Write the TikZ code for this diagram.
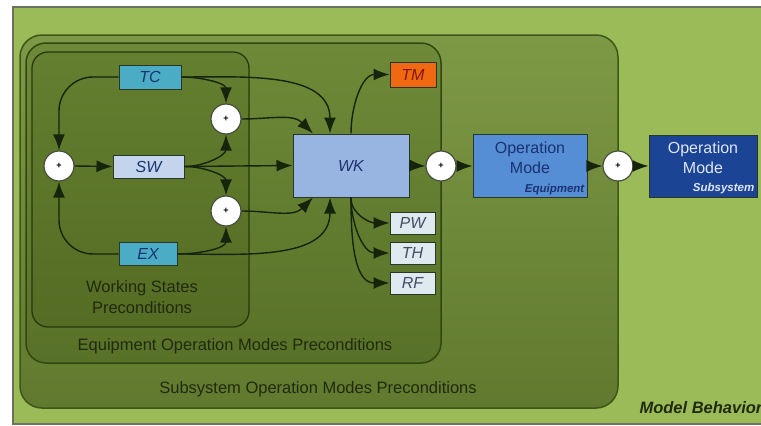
\documentclass[tikz,border=0pt]{standalone}
\usepackage{fontspec}
\setmainfont{Liberation Sans}
\usetikzlibrary{arrows.meta}

\definecolor{bggreen}{RGB}{155,187,89}
\definecolor{framegray}{RGB}{105,115,95}
\definecolor{subtop}{RGB}{126,153,70}
\definecolor{subbot}{RGB}{96,121,46}
\definecolor{subline}{RGB}{62,86,24}
\definecolor{eqtop}{RGB}{110,138,56}
\definecolor{eqbot}{RGB}{88,113,40}
\definecolor{eqline}{RGB}{50,70,18}
\definecolor{wstop}{RGB}{100,127,48}
\definecolor{wsbot}{RGB}{84,108,35}
\definecolor{wsline}{RGB}{40,56,14}
\definecolor{linedark}{RGB}{22,36,12}
\definecolor{labeldark}{RGB}{32,42,14}
\definecolor{boxline}{RGB}{40,55,40}
\definecolor{sumline}{RGB}{70,78,62}
\definecolor{tcfill}{RGB}{75,172,198}
\definecolor{swfill}{RGB}{196,212,236}
\definecolor{wkfill}{RGB}{152,181,226}
\definecolor{tmfill}{RGB}{240,104,18}
\definecolor{pwfill}{RGB}{222,233,240}
\definecolor{opefill}{RGB}{86,142,214}
\definecolor{opsfill}{RGB}{28,68,148}
\definecolor{textblue}{RGB}{26,50,112}
\definecolor{textred}{RGB}{130,22,0}
\definecolor{textslate}{RGB}{66,76,98}
\definecolor{textlight}{RGB}{222,230,246}

\tikzset{
  flow/.style={line width=1.4pt, draw=linedark, -{Latex[length=16pt,width=12pt]}},
  statebox/.style={draw=boxline, line width=1pt, inner sep=0pt, text=textblue,
    font=\fontsize{16}{18}\selectfont\itshape},
  sumnode/.style={circle, draw=sumline, fill=white, line width=1.2pt, minimum size=30pt,
    inner sep=0pt, font=\fontsize{9}{9}\selectfont\bfseries},
  grouplabel/.style={font=\fontsize{16.5}{21}\selectfont, text=labeldark, align=center},
  modebox/.style={draw=boxline, line width=1pt, minimum width=114pt, minimum height=63pt},
  modetext/.style={font=\fontsize{16}{20}\selectfont, align=center},
  modetag/.style={font=\fontsize{11.5}{12}\selectfont\bfseries\itshape, inner sep=3pt},
}

\begin{document}
\begin{tikzpicture}[x=1pt,y=1pt]
\useasboundingbox (0,0) rectangle (761,-426);
\clip (0,0) rectangle (761,-426);

% frame and the three nested groups
\draw[fill=bggreen, draw=framegray, line width=1.2pt] (13,-7) rectangle (790,-424);
\draw[top color=subtop, bottom color=subbot, draw=subline, line width=1.5pt, rounded corners=22pt]
  (20,-35) rectangle (618,-408);
\draw[top color=eqtop, bottom color=eqbot, draw=eqline, line width=1.5pt, rounded corners=20pt]
  (26,-43) rectangle (441,-363);
\draw[top color=wstop, bottom color=wsbot, draw=wsline, line width=1.3pt, rounded corners=16pt]
  (32,-52) rectangle (249,-327);

\node[grouplabel] (wslabel) at (142,-297) {Working States\\Preconditions};
\node[grouplabel, anchor=base] (eqlabel) at (235,-350) {Equipment Operation Modes Preconditions};
\node[grouplabel, anchor=base] (sublabel) at (318,-393) {Subsystem Operation Modes Preconditions};
\node[grouplabel, anchor=base west, font=\fontsize{16.5}{20}\selectfont\bfseries\itshape] (mblabel)
  at (636,-413) {Model Behavior};

% states
\node[statebox, fill=tcfill, minimum width=62pt, minimum height=24pt] (tc) at (150,-77) {TC};
\node[statebox, fill=swfill, minimum width=71pt, minimum height=23pt] (sw) at (148.5,-166.5) {SW};
\node[statebox, fill=tcfill, minimum width=58pt, minimum height=23pt] (ex) at (148,-254) {EX};
\node[statebox, fill=wkfill, minimum width=116pt, minimum height=63pt] (wk) at (351,-165.5) {WK};
\node[statebox, fill=tmfill, text=textred, minimum width=46pt, minimum height=25pt] (tm) at (413,-74.5) {TM};
\node[statebox, fill=pwfill, text=textslate, minimum width=45pt, minimum height=22pt] (pw) at (412.5,-223) {PW};
\node[statebox, fill=pwfill, text=textslate, minimum width=45pt, minimum height=22pt] (th) at (412.5,-253) {TH};
\node[statebox, fill=pwfill, text=textslate, minimum width=45pt, minimum height=22pt] (rf) at (412.5,-283) {RF};

% sums
\node[sumnode] (cl) at (59,-166) {+};
\node[sumnode] (ct) at (226,-119) {+};
\node[sumnode] (cb) at (226,-211) {+};
\node[sumnode] (cw) at (441,-166) {+};
\node[sumnode] (ce) at (618,-166) {+};

% operation modes
\node[modebox, fill=opefill] (ope) at (530,-166) {};
\node[modetext, text=textblue] (opetext) at ([yshift=8pt]ope.center) {Operation\\Mode};
\node[modetag, text=textblue, anchor=south east] (opetag) at (ope.south east) {Equipment};
\node[modebox, fill=opsfill, minimum width=108pt, minimum height=62pt] (ops) at (703,-166) {};
\node[modetext, text=textlight] (opstext) at ([yshift=8pt]ops.center) {Operation\\Mode};
\node[modetag, text=textlight, anchor=south east] (opstag) at (ops.south east) {Subsystem};

% connectors
\draw[flow, rounded corners=34pt] (tc.west) -| (cl.north);
\draw[flow, rounded corners=34pt] (ex.west) -| (cl.south);
\draw[flow] (cl.east) -- (sw.west);
\draw[flow] (tc.east) to[out=0,in=90] (ct.north);
\draw[flow] (tc.east) to[out=0,in=90] ([xshift=-21pt]wk.north);
\draw[flow] (sw.east) to[out=0,in=-90] (ct.south);
\draw[flow] (sw.east) to[out=0,in=90] (cb.north);
\draw[flow] (sw.east) -- (wk.west);
\draw[flow] (ex.east) to[out=0,in=-90] (cb.south);
\draw[flow] (ex.east) to[out=0,in=-90] ([xshift=-21pt]wk.south);
\draw[flow] (ct.east) to[out=0,in=135] ([xshift=-38pt]wk.north);
\draw[flow] (cb.east) to[out=0,in=-135] ([xshift=-38pt]wk.south);
\draw[flow] (wk.north) to[out=90,in=180] (tm.west);
\draw[flow] (wk.south) to[out=-90,in=180] (pw.west);
\draw[flow] (wk.south) to[out=-90,in=180] (th.west);
\draw[flow] (wk.south) to[out=-90,in=180] (rf.west);
\draw[flow] (wk.east) -- (cw.west);
\draw[flow] (cw.east) -- (ope.west);
\draw[flow] (ope.east) -- (ce.west);
\draw[flow] (ce.east) -- (ops.west);
\end{tikzpicture}
\end{document}
